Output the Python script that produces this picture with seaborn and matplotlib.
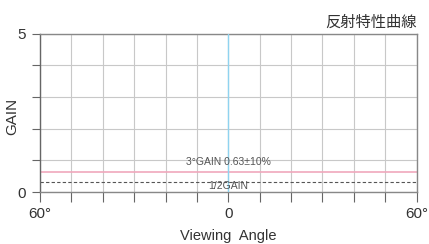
import matplotlib
matplotlib.use("Agg")
import matplotlib.pyplot as plt
import seaborn as sns
import pandas as pd

ANGLES = [-60, 60]
GAIN_3DEG = [0.63, 0.63]
HALF_GAIN = [0.315, 0.315]
X_TICKS = list(range(-60, 61, 10))
X_LABELS = {-60: "60°", 0: "0", 60: "60°"}
Y_TICKS = [0, 1, 2, 3, 4, 5]
Y_LABELS = {0: "0", 5: "5"}

sns.set_style("white")
plt.rcParams['font.family'] = ['Liberation Sans', 'Noto Sans CJK JP', 'DejaVu Sans']

df = pd.DataFrame({"angle": ANGLES, "gain": GAIN_3DEG, "half": HALF_GAIN})

fig = plt.figure(figsize=(4.29, 2.44), dpi=100)
ax = fig.add_axes([0.0932, 0.213, 0.878, 0.649])

sns.lineplot(data=df, x="angle", y="gain", color="#f0a8bc", linewidth=1.2, ax=ax)
sns.lineplot(data=df, x="angle", y="half", color="#555555", linewidth=0.8,
             linestyle=(0, (3, 2)), ax=ax)
ax.axvline(0, color="#8fd3f0", linewidth=1.0, zorder=3)

ax.set_xlim(-60, 60)
ax.set_ylim(0, 5)
ax.set_xticks(X_TICKS)
ax.set_xticklabels([X_LABELS.get(t, "") for t in X_TICKS])
ax.set_yticks(Y_TICKS)
ax.set_yticklabels([Y_LABELS.get(t, "") for t in Y_TICKS])
ax.grid(True, color="#c8c8c8", linewidth=0.8)
ax.set_axisbelow(True)

for s in ax.spines.values():
    s.set_color("#888888")
    s.set_linewidth(1.0)
ax.spines["left"].set_color("#666666")

ax.tick_params(axis="x", direction="out", length=7, width=0.8, color="#666666",
               labelsize=11, pad=3.5, labelcolor="#333333", bottom=True)
ax.tick_params(axis="y", direction="out", length=6, width=0.8, color="#666666",
               labelsize=11, pad=4, labelcolor="#333333", left=True)

ax.set_xlabel("Viewing  Angle", fontsize=10.5, color="#333333", labelpad=6)
ax.set_ylabel("GAIN", fontsize=11, color="#333333")
ax.yaxis.set_label_coords(-0.056, 0.48)
ax.set_title("反射特性曲線", loc="right", fontsize=11, color="#333333", pad=5)

ax.text(0, 0.94, "3°GAIN 0.63±10%", ha="center", va="center", fontsize=7.5, color="#555555")
ax.text(0, 0.19, "1/2GAIN", ha="center", va="center", fontsize=7.5, color="#555555")

fig.savefig("out.png", dpi=100)
